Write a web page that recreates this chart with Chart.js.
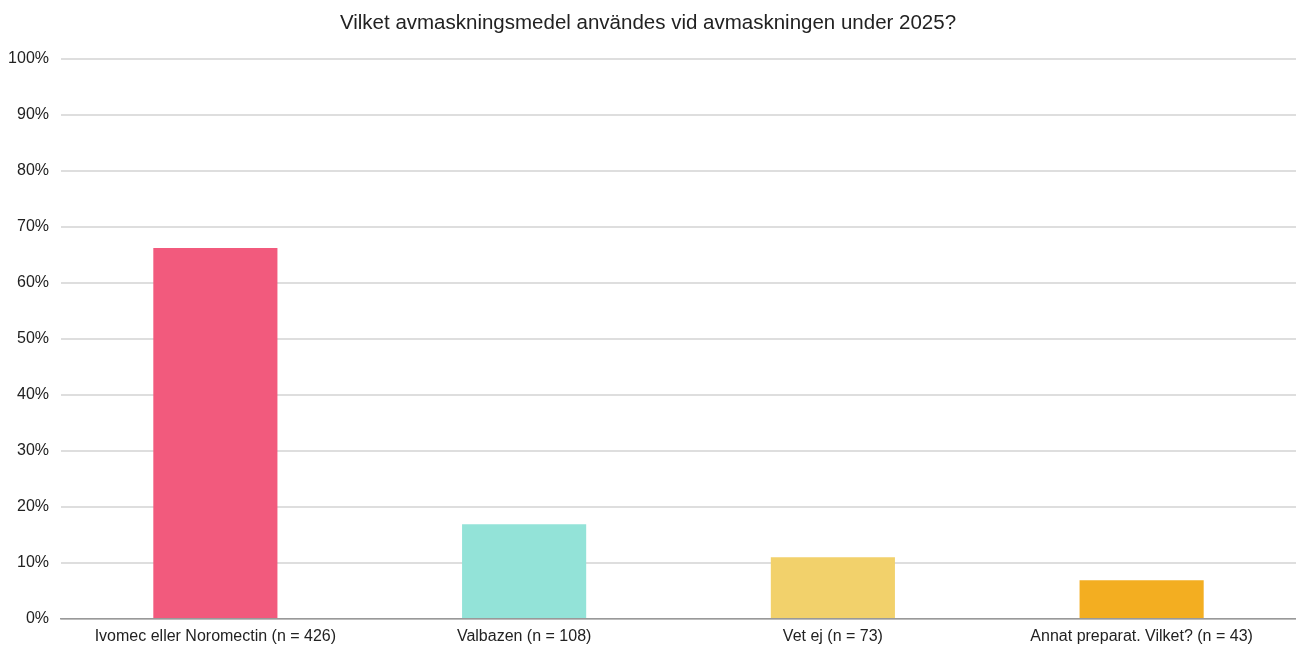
<!DOCTYPE html>
<html>
<head>
<meta charset="utf-8">
<script src="https://cdn.jsdelivr.net/npm/chart.js@4.4.0/dist/chart.umd.min.js"></script>
<style>
  html, body { margin: 0; padding: 0; background: #fff; }
  #wrap { width: 1296px; height: 653px; position: relative; }
</style>
</head>
<body>
<div id="wrap"><canvas id="avmaskChart"></canvas></div>
<script>
// Andel svar per avmaskningsmedel (procent)
const categories = [
    'Ivomec eller Noromectin (n = 426)',
    'Valbazen (n = 108)',
    'Vet ej (n = 73)',
    'Annat preparat. Vilket? (n = 43)'
];
const shares = [66.2, 16.9, 11.0, 6.9];
const barColors = ['#f25a7d', '#93e3d8', '#f2d16b', '#f3ae21'];
const yTicks = [0, 10, 20, 30, 40, 50, 60, 70, 80, 90, 100];

const fontFamily = '"Liberation Sans Narrow", "Arial Narrow", "Liberation Sans", Arial, sans-serif';

const ctx = document.getElementById('avmaskChart').getContext('2d');
new Chart(ctx, {
    type: 'bar',
    data: {
        labels: categories,
        datasets: [{
            data: shares,
            backgroundColor: barColors,
            borderWidth: 0,
            barPercentage: 0.402,
            categoryPercentage: 1
        }]
    },
    options: {
        responsive: true,
        maintainAspectRatio: false,
        animation: false,
        layout: {
            padding: { left: 0, right: 0, top: 4, bottom: 0 }
        },
        plugins: {
            legend: { display: false },
            tooltip: { enabled: false },
            title: {
                display: true,
                text: 'Vilket avmaskningsmedel användes vid avmaskningen under 2025?',
                color: '#222',
                font: { family: fontFamily, size: 20.5, weight: 'normal' },
                padding: { top: 7, bottom: 23 }
            }
        },
        scales: {
            x: {
                grid: { display: false, drawTicks: false },
                border: { color: '#999', width: 1.5 },
                afterFit: scale => { scale.height = 34; },
                ticks: {
                    color: '#222',
                    padding: 8,
                    maxRotation: 0,
                    font: { family: fontFamily, size: 16 }
                }
            },
            y: {
                min: 0,
                max: 100,
                afterBuildTicks: axis => { axis.ticks = yTicks.map(v => ({ value: v })); },
                afterFit: scale => { scale.width = 61; },
                grid: { color: '#dedede', lineWidth: 2, drawTicks: false },
                border: { display: false },
                ticks: {
                    color: '#222',
                    padding: 12,
                    font: { family: fontFamily, size: 16 },
                    callback: v => v + '%'
                }
            }
        }
    }
});
</script>
</body>
</html>
